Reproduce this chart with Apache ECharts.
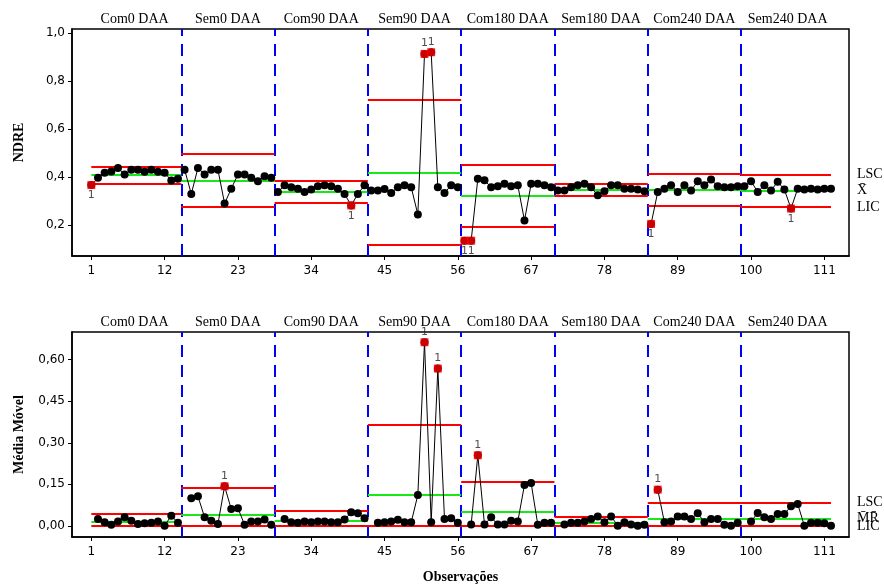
<!DOCTYPE html>
<html>
<head>
<meta charset="utf-8">
<script src="https://cdn.jsdelivr.net/npm/echarts@6/dist/echarts.min.js"></script>
<style>html,body{margin:0;background:#fff}#chart{width:884px;height:585px}</style>
</head>
<body>
<div id="chart"></div>
<script>
// estágios (14 observações cada)
const stageNames = ['Com0 DAA', 'Sem0 DAA', 'Com90 DAA', 'Sem90 DAA', 'Com180 DAA', 'Sem180 DAA', 'Com240 DAA', 'Sem240 DAA'];
const stageSize = 14;
const xTicks = [1, 12, 23, 34, 45, 56, 67, 78, 89, 100, 111];
const ndreTicks = [0.2, 0.4, 0.6, 0.8, 1.0];
const mrTicks = [0, 0.15, 0.30, 0.45, 0.60];

// valores individuais de NDRE
const ndre = [
  0.366, 0.396, 0.417, 0.423, 0.437, 0.410, 0.430, 0.430, 0.421, 0.430, 0.421, 0.417, 0.385, 0.392,
  0.430, 0.329, 0.437, 0.410, 0.430, 0.430, 0.289, 0.351, 0.410, 0.410, 0.396, 0.382, 0.403, 0.396,
  0.337, 0.365, 0.357, 0.351, 0.337, 0.347, 0.361, 0.365, 0.361, 0.351, 0.329, 0.281, 0.329, 0.365,
  0.343, 0.343, 0.349, 0.333, 0.357, 0.365, 0.357, 0.243, 0.913, 0.920, 0.357, 0.333, 0.365, 0.357,
  0.134, 0.134, 0.392, 0.386, 0.357, 0.361, 0.371, 0.361, 0.365, 0.218, 0.371, 0.371, 0.365, 0.357,
  0.343, 0.343, 0.357, 0.365, 0.371, 0.357, 0.323, 0.340, 0.365, 0.365, 0.351, 0.351, 0.347, 0.340,
  0.204, 0.337, 0.351, 0.365, 0.337, 0.365, 0.343, 0.382, 0.365, 0.389, 0.361, 0.357, 0.357, 0.361,
  0.361, 0.382, 0.337, 0.365, 0.343, 0.380, 0.347, 0.268, 0.351, 0.347, 0.351, 0.347, 0.351, 0.351
];

// amplitude móvel
const mr = [
  null, 0.025, 0.013, 0.004, 0.016, 0.031, 0.019, 0.007, 0.010, 0.011, 0.016, 0.001, 0.037, 0.011,
  null, 0.100, 0.107, 0.031, 0.019, 0.007, 0.143, 0.061, 0.064, 0.004, 0.016, 0.016, 0.023, 0.004,
  null, 0.025, 0.013, 0.011, 0.016, 0.013, 0.016, 0.016, 0.013, 0.013, 0.023, 0.049, 0.046, 0.028,
  null, 0.011, 0.013, 0.016, 0.022, 0.013, 0.013, 0.112, 0.663, 0.013, 0.568, 0.025, 0.028, 0.011,
  null, 0.005, 0.255, 0.005, 0.031, 0.005, 0.005, 0.019, 0.016, 0.148, 0.155, 0.004, 0.011, 0.011,
  null, 0.005, 0.011, 0.011, 0.016, 0.025, 0.034, 0.013, 0.034, 0.001, 0.013, 0.005, 0.001, 0.004,
  null, 0.131, 0.013, 0.016, 0.034, 0.034, 0.025, 0.046, 0.013, 0.025, 0.025, 0.004, 0.001, 0.011,
  null, 0.016, 0.047, 0.031, 0.025, 0.043, 0.043, 0.071, 0.079, 0.001, 0.011, 0.011, 0.010, 0.001
];

// limites por estágio
const ndreUCL = [0.444, 0.497, 0.386, 0.722, 0.452, 0.372, 0.412, 0.410];
const ndreCL  = [0.408, 0.386, 0.340, 0.419, 0.321, 0.347, 0.347, 0.342];
const ndreLCL = [0.372, 0.275, 0.294, 0.116, 0.190, 0.322, 0.279, 0.274];
const mrUCL = [0.044, 0.136, 0.055, 0.367, 0.158, 0.034, 0.085, 0.085];
const mrCL  = [0.0135, 0.041, 0.017, 0.112, 0.050, 0.010, 0.026, 0.026];
const mrLCL = [0, 0, 0, 0, 0, 0, 0, 0];

// pontos fora de controle (teste 1)
const ndreFlagsBelow = [1, 40, 57, 58, 85, 106];
const ndreFlagsAbove = [51, 52];
const mrFlags = [21, 51, 53, 59, 86];

const RED = '#ff0000';
const GREEN = '#18e818';
const BLUE = '#0000ff';
const SERIF = 'Liberation Serif';
const SANS = 'DejaVu Sans';
const nObs = ndre.length;
const xMin = -1.9, xMax = 114.7;

function withBreaks(values) {
  const out = [];
  values.forEach((v, i) => {
    if (i > 0 && i % stageSize === 0) out.push([i + 0.5, '-']);
    out.push([i + 1, v == null ? '-' : v]);
  });
  return out;
}

function limitSegments(ucl, cl, lcl, names) {
  const segs = [];
  const n = ucl.length;
  for (let s = 0; s < n; s++) {
    const a = s === 0 ? 1 : s * stageSize + 0.5;
    const b = s === n - 1 ? nObs : (s + 1) * stageSize + 0.5;
    [[ucl, RED, names[0]], [cl, GREEN, names[1]], [lcl, RED, names[2]]].forEach(([arr, color, text]) => {
      segs.push([
        { coord: [a, arr[s]], lineStyle: { color: color }, label: { show: s === n - 1, formatter: text } },
        { coord: [b, arr[s]] }
      ]);
    });
  }
  return segs;
}

const boundaries = [];
for (let s = 1; s < stageNames.length; s++) boundaries.push({ xAxis: s * stageSize + 0.5 });
const stageCenters = stageNames.map((_, i) => i * stageSize + 7.5);

function bottomX(gridIndex, withName) {
  return {
    type: 'value', gridIndex: gridIndex, min: xMin, max: xMax,
    splitLine: { show: false },
    axisLine: { onZero: false, lineStyle: { color: '#000', width: 1.5 } },
    axisTick: { length: 4, customValues: xTicks, lineStyle: { color: '#000' } },
    axisLabel: { customValues: xTicks, margin: 9, color: '#000', fontFamily: SANS, fontSize: 12 },
    name: withName ? 'Observações' : '', nameLocation: 'middle', nameGap: 33,
    nameTextStyle: { fontFamily: SERIF, fontWeight: 'bold', fontSize: 14, color: '#000' }
  };
}
function topX(gridIndex) {
  return {
    type: 'value', gridIndex: gridIndex, position: 'top', min: xMin, max: xMax,
    splitLine: { show: false }, axisLine: { show: false, onZero: false }, axisTick: { show: false },
    axisLabel: {
      customValues: stageCenters, margin: 3, color: '#000', fontFamily: SERIF, fontSize: 14,
      formatter: v => stageNames[Math.round((v - 7.5) / stageSize)]
    }
  };
}
function leftY(gridIndex, min, max, ticks, digits, name, gap) {
  return {
    type: 'value', gridIndex: gridIndex, min: min, max: max,
    splitLine: { show: false },
    axisLine: { show: true, onZero: false, lineStyle: { color: '#000', width: 1.5 } },
    axisTick: { show: true, length: 4, customValues: ticks, lineStyle: { color: '#000' } },
    axisLabel: {
      customValues: ticks, margin: 7, color: '#000', fontFamily: SANS, fontSize: 12,
      formatter: v => v.toFixed(digits).replace('.', ',')
    },
    name: name, nameLocation: 'middle', nameGap: gap, nameRotate: 90,
    nameTextStyle: { fontFamily: SERIF, fontWeight: 'bold', fontSize: 14, color: '#000' }
  };
}

function pointsSeries(values, axisIdx) {
  return {
    type: 'line', xAxisIndex: axisIdx, yAxisIndex: axisIdx,
    data: withBreaks(values), connectNulls: false,
    symbol: 'circle', symbolSize: 8, showAllSymbol: true,
    itemStyle: { color: '#000' }, lineStyle: { color: '#000', width: 1 }, z: 5
  };
}
function limitSeries(axisIdx, ucl, cl, lcl, names) {
  return {
    type: 'line', xAxisIndex: axisIdx, yAxisIndex: axisIdx, data: [], z: 3,
    markLine: {
      silent: true, symbol: ['none', 'none'], animation: false,
      lineStyle: { type: 'solid', width: 2 },
      label: { position: 'end', distance: 26, color: '#000', fontFamily: SERIF, fontSize: 14 },
      data: limitSegments(ucl, cl, lcl, names)
    }
  };
}
function stageLines(axisIdx) {
  return {
    type: 'line', xAxisIndex: axisIdx, yAxisIndex: axisIdx, data: [], z: 2,
    markLine: {
      silent: true, symbol: ['none', 'none'], animation: false,
      label: { show: false },
      lineStyle: { color: BLUE, type: [12, 8], width: 2 },
      data: boundaries
    }
  };
}
function flagSeries(values, obsList, axisIdx, pos) {
  return {
    type: 'scatter', xAxisIndex: axisIdx, yAxisIndex: axisIdx, z: 10,
    data: obsList.map(o => [o, values[o - 1]]),
    symbol: 'rect', symbolSize: 8, itemStyle: { color: RED },
    label: { show: true, position: pos, distance: 1, formatter: '1', color: '#222', fontFamily: SANS, fontSize: 11 }
  };
}

const chart = echarts.init(document.getElementById('chart'));
chart.setOption({
  animation: false,
  backgroundColor: '#fff',
  grid: [
    { left: 72, right: 35, top: 29, height: 227, show: true, borderColor: '#000', borderWidth: 1.5, backgroundColor: 'transparent' },
    { left: 72, right: 35, top: 332, height: 206, show: true, borderColor: '#000', borderWidth: 1.5, backgroundColor: 'transparent' }
  ],
  xAxis: [bottomX(0, false), bottomX(1, true), topX(0), topX(1)],
  yAxis: [
    leftY(0, 0.07, 1.017, ndreTicks, 1, 'NDRE', 46),
    leftY(1, -0.04, 0.70, mrTicks, 2, 'Média Móvel', 46)
  ],
  series: [
    stageLines(0),
    stageLines(1),
    limitSeries(0, ndreUCL, ndreCL, ndreLCL, ['LSC', 'X\u0304', 'LIC']),
    limitSeries(1, mrUCL, mrCL, mrLCL, ['LSC', 'M\u0304R\u0304', 'LIC']),
    pointsSeries(ndre, 0),
    pointsSeries(mr, 1),
    flagSeries(ndre, ndreFlagsBelow, 0, 'bottom'),
    flagSeries(ndre, ndreFlagsAbove, 0, 'top'),
    flagSeries(mr, mrFlags, 1, 'top')
  ]
});
</script>
</body>
</html>
